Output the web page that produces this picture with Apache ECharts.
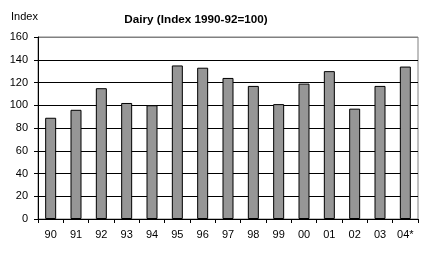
<!DOCTYPE html>
<html><head><meta charset="utf-8">
<script src="https://cdn.jsdelivr.net/npm/echarts@6/dist/echarts.min.js"></script>
<style>html,body{margin:0;padding:0;background:#fff}#c{width:429px;height:255px}</style>
</head><body><div id="c"></div>
<script>
var categories = ['90','91','92','93','94','95','96','97','98','99','00','01','02','03','04*'];
var values = [89, 96, 115, 102, 100, 135, 133, 124, 117, 101, 119, 130, 97, 117, 134];
var yTicks = {min: 0, max: 160, interval: 20};
var chart = echarts.init(document.getElementById('c'), null, {renderer: 'canvas'});
var font = 'Liberation Sans, Arial, sans-serif';
chart.setOption({
  animation: false,
  backgroundColor: '#fff',
  title: {
    text: 'Dairy (Index 1990-92=100)', left: 191, top: 9, textAlign: 'center',
    textStyle: {fontFamily: font, fontSize: 11.7, fontWeight: 'bold', color: '#000'}
  },
  graphic: [{type: 'text', left: 11, top: 11, style: {text: 'Index', fontFamily: font, fontSize: 11, fill: '#000'}}],
  grid: {left: 38, right: 11, top: 37, bottom: 36, show: true, borderColor: '#808080', borderWidth: 1, backgroundColor: 'transparent'},
  xAxis: {
    type: 'category', data: categories,
    axisLine: {lineStyle: {color: '#000', width: 1}},
    axisTick: {show: true, length: 4, lineStyle: {color: '#000'}},
    axisLabel: {fontFamily: font, fontSize: 11, color: '#000', margin: 10}
  },
  yAxis: {
    type: 'value', min: yTicks.min, max: yTicks.max, interval: yTicks.interval,
    axisLine: {show: true, lineStyle: {color: '#000', width: 1}},
    axisTick: {show: true, length: 4, lineStyle: {color: '#000'}},
    axisLabel: {fontFamily: font, fontSize: 11, color: '#000', margin: 10},
    splitLine: {show: true, lineStyle: {color: ['#000','#000','#000','#000','#000','#000','#000','#000','#808080'], width: 1}}
  },
  series: [{
    type: 'bar', data: values, barWidth: 11,
    itemStyle: {color: '#969696', borderColor: '#000', borderWidth: 1}
  }]
});
</script></body></html>
